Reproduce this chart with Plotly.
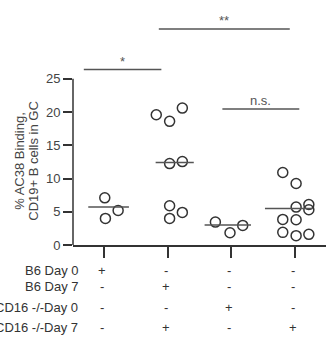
import plotly.graph_objects as go

# ---- data ----
groups = ["B6 Day 0", "B6 Day 7", "CD16 -/-Day 0", "CD16 -/-Day 7"]
g1_vals = [7.1, 4.0, 5.2]
g1_jit = [0.01, 0.02, 0.22]
g2_vals = [19.6, 18.6, 20.6, 12.25, 12.55, 5.9, 4.0, 4.9]
g2_jit = [-0.18, 0.03, 0.23, 0.03, 0.23, 0.03, 0.03, 0.23]
g3_vals = [3.45, 1.85, 2.95]
g3_jit = [-0.25, -0.02, 0.18]
g4_vals = [10.9, 9.25, 5.7, 6.1, 5.3, 3.85, 3.8, 1.9, 1.4, 1.6]
g4_jit = [-0.19, 0.02, 0.02, 0.22, 0.22, -0.19, 0.02, -0.19, 0.02, 0.22]
medians = [5.7, 12.4, 3.0, 5.5]
median_span = [(-0.25, 0.39), (-0.19, 0.41), (-0.42, 0.31), (-0.47, 0.28)]

# significance brackets: (x_start, x_end, y, label)
sig_bars = [(-0.32, 0.90, 26.4, "*"), (0.86, 2.92, 32.5, "**"), (1.86, 3.07, 20.45, "n.s.")]

y_ticks = [0, 5, 10, 15, 20, 25]
y_title = ["% AC38 Binding,", "CD19+ B cells in GC"]

# condition table (rows = labels, columns = groups)
row_labels = ["B6 Day 0", "B6 Day 7", "CD16 -/-Day 0", "CD16 -/-Day 7"]
table = [["+", "-", "-", "-"],
         ["-", "+", "-", "-"],
         ["-", "-", "+", "-"],
         ["-", "+", "-", "+"]]

vals = [g1_vals, g2_vals, g3_vals, g4_vals]
jits = [g1_jit, g2_jit, g3_jit, g4_jit]

FONT = "Liberation Sans, Arial, Helvetica, sans-serif"
INK = "#333333"

fig = go.Figure()
for gi, (v, j) in enumerate(zip(vals, jits)):
    fig.add_trace(go.Scatter(
        x=[gi + d for d in j], y=v, mode="markers",
        marker=dict(symbol="circle-open", size=10, color=INK, line=dict(width=1.5, color=INK)),
        showlegend=False, hoverinfo="y", cliponaxis=False))
    a, b = median_span[gi]
    fig.add_trace(go.Scatter(
        x=[gi + a, gi + b], y=[medians[gi], medians[gi]], mode="lines",
        line=dict(color="#555555", width=1.5), showlegend=False, hoverinfo="skip"))

shapes = []
annotations = []
for x0, x1, yv, lab in sig_bars:
    shapes.append(dict(type="line", xref="x", yref="y", x0=x0, x1=x1, y0=yv, y1=yv,
                       line=dict(color="#555555", width=1.5)))
    annotations.append(dict(x=(x0 + x1) / 2, y=yv, xref="x", yref="y", text=lab,
                            showarrow=False, yanchor="bottom", yshift=-1,
                            font=dict(family=FONT, size=13, color="#555555")))

# y axis line only from 0 to 25
shapes.append(dict(type="line", xref="paper", yref="y", x0=0, x1=0, y0=0, y1=y_ticks[-1],
                   line=dict(color=INK, width=1.5)))

# y title (two lines, rotated)
for k, (line, px) in enumerate(zip(y_title, [19.5, 33.5])):
    annotations.append(dict(x=(px - 73) / 253, y=12.6, xref="paper", yref="y", text=line,
                            textangle=-90, showarrow=False, xanchor="center", yanchor="middle",
                            font=dict(family=FONT, size=13, color="#444444")))

# condition table
row_py = [270.5, 286.5, 307.5, 327.5]
for r, lab in enumerate(row_labels):
    ypap = (245 - row_py[r]) / 226
    annotations.append(dict(x=(80 - 73) / 253, y=ypap, xref="paper", yref="paper", text=lab,
                            showarrow=False, xanchor="right", yanchor="middle",
                            font=dict(family=FONT, size=13, color="#333333")))
    for c, sym in enumerate(table[r]):
        annotations.append(dict(x=c - 0.03, y=ypap, xref="x", yref="paper", text=sym,
                                showarrow=False, xanchor="center", yanchor="middle",
                                font=dict(family=FONT, size=13, color="#333333")))

fig.update_layout(
    width=326, height=340,
    margin=dict(l=73, r=0, t=19, b=95),
    paper_bgcolor="white", plot_bgcolor="white",
    shapes=shapes, annotations=annotations,
    xaxis=dict(range=[-0.49, 3.49], showgrid=False, zeroline=False, showline=True,
               linecolor=INK, linewidth=1.5, ticks="outside", ticklen=11, tickwidth=1.5,
               tickcolor=INK, tickvals=[0, 1, 2, 3], showticklabels=False),
    yaxis=dict(range=[0, 34], showgrid=False, zeroline=False, showline=False,
               ticks="outside", ticklen=9, tickwidth=1.5, tickcolor=INK,
               tickvals=y_ticks, ticktext=[str(t) for t in y_ticks],
               tickfont=dict(family=FONT, size=13, color="#444444")),
    font=dict(family=FONT),
)

fig.write_html("out.html")
